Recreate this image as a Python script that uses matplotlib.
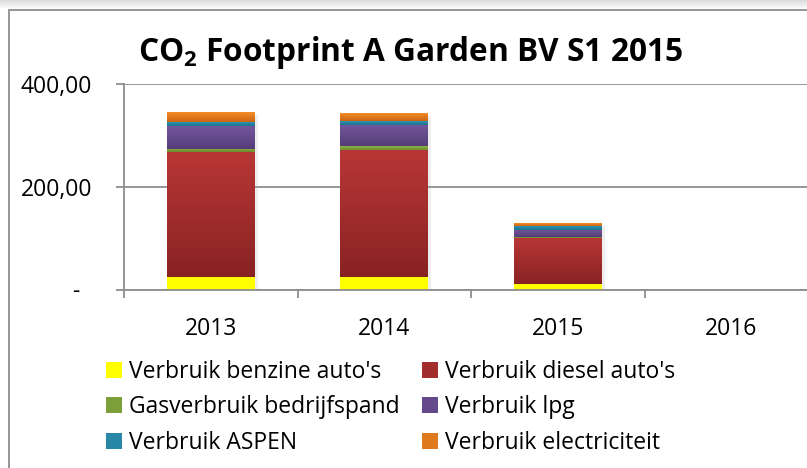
import numpy as np
import matplotlib
matplotlib.use("Agg")
import matplotlib.pyplot as plt
from matplotlib import patheffects as pe
from matplotlib.patches import Rectangle, Patch
from matplotlib.colors import to_rgb

plt.rcParams['font.family'] = ['Open Sans', 'DejaVu Sans']

years = ['2013', '2014', '2015', '2016']
benzine = [24, 24, 11, 0]
diesel = [243, 248.5, 89, 0]
gas = [7, 6, 2, 0]
lpg = [44, 41, 14, 0]
aspen = [9, 8, 8, 0]
elec = [18, 15.5, 4.5, 0]

series = [
    ("Verbruik benzine auto's", benzine, '#FFFF00', '#FFFF00'),
    ("Verbruik diesel auto's", diesel, '#B93636', '#892323'),
    ("Gasverbruik bedrijfspand", gas, '#8DB244', '#6C8C2F'),
    ("Verbruik lpg", lpg, '#73579D', '#553D78'),
    ("Verbruik ASPEN", aspen, '#2F9DBE', '#1F718C'),
    ("Verbruik electriciteit", elec, '#F28C28', '#CC6512'),
]

grey = '#8E8E8E'
W, H = 807, 468
fig = plt.figure(figsize=(W / 100, H / 100), dpi=100)

# top shadow and chart border
sh = fig.add_axes([0, 1 - 10 / H, 1, 10 / H])
sh.imshow(np.linspace(0.86, 1, 10).reshape(-1, 1), cmap='gray', vmin=0, vmax=1,
          aspect='auto', extent=(0, 1, 0, 1))
sh.axis('off')
fig.patches.append(Rectangle((9 / W, -0.1), 1.2, 1 - 10 / H + 0.1, transform=fig.transFigure,
                             fill=False, edgecolor=grey, linewidth=1.3))

ax = fig.add_axes([124 / W, 1 - 289.5 / H, 694 / W, 205.5 / H])
x = np.arange(len(years))
bw = 0.507
bottom = np.zeros(len(years))
segs = []
for name, vals, ctop, cbot in series:
    bars = ax.bar(x, vals, bw, bottom=bottom, color=cbot, linewidth=0, zorder=2,
                  path_effects=[pe.SimplePatchShadow(offset=(2, -2), shadow_rgbFace='#aaaaaa', alpha=0.2),
                                pe.Normal()])
    for b in bars:
        if b.get_height() > 0:
            segs.append((b, ctop, cbot))
    bottom += np.array(vals)

# vertical gradient on each segment, lighter at the top
for b, ctop, cbot in segs:
    t = np.linspace(0, 1, 64).reshape(-1, 1, 1)
    grad = np.array(to_rgb(ctop)) * (1 - t) + np.array(to_rgb(cbot)) * t
    x0, y0 = b.get_x(), b.get_y()
    ax.imshow(grad, extent=(x0, x0 + b.get_width(), y0, y0 + b.get_height()),
              origin='upper', aspect='auto', zorder=2.5, interpolation='bilinear')

ax.set_xlim(-0.5, 3.5)
ax.set_ylim(0, 400)
ax.set_yticks([0, 200, 400])
ax.set_yticklabels(['-  ', '200,00', '400,00'])
ax.set_xticks(x)
ax.set_xticklabels(years)
ax.set_xticks(np.arange(-0.5, 4, 1), minor=True)
ax.yaxis.grid(True, color=grey, linewidth=1.3, zorder=0)
ax.set_axisbelow(True)
for s in ['top', 'right']:
    ax.spines[s].set_visible(False)
for s in ['left', 'bottom']:
    ax.spines[s].set_color(grey)
    ax.spines[s].set_linewidth(1.3)
ax.tick_params(axis='y', length=6, width=1.3, color=grey, pad=17, labelsize=16.5)
ax.tick_params(axis='x', which='major', length=0, pad=20, labelsize=16.5)
ax.tick_params(axis='x', which='minor', length=6, width=1.3, color=grey)

fig.text(411 / W, 1 - 61 / H, r"CO$_\mathregular{2}$ Footprint A Garden BV S1 2015",
         ha='center', va='baseline', fontsize=22.8, fontweight='bold')

mid = lambda a, b: tuple((np.array(to_rgb(a)) + np.array(to_rgb(b))) / 2)
handles = [Patch(facecolor=mid(c1, c2), label=n) for n, v, c1, c2 in series]
order = [0, 2, 4, 1, 3, 5]
fig.legend([handles[i] for i in order], [series[i][0] for i in order],
           ncol=2, loc='upper left', bbox_to_anchor=(106 / W, 1 - 360 / H),
           frameon=False, fontsize=16.5, handlelength=0.7, handleheight=0.7,
           handletextpad=0.31, columnspacing=0.98, labelspacing=0.5, borderpad=0,
           borderaxespad=0)

fig.savefig('out.png', dpi=100)
